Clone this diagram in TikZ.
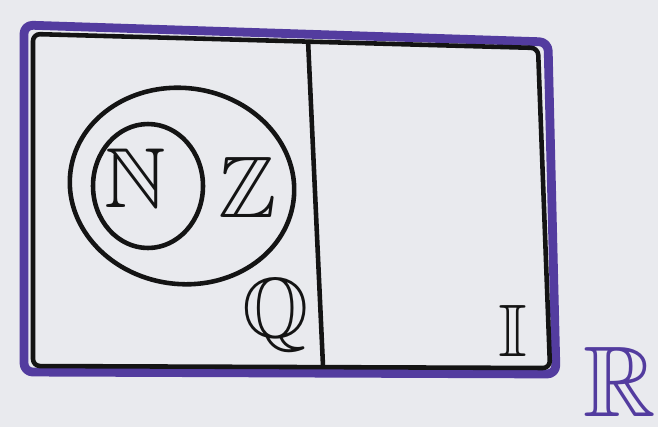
\documentclass[tikz,border=0pt]{standalone}
\usepackage{amssymb}
\usetikzlibrary{positioning, shapes.geometric}
\definecolor{paper}{HTML}{E9EAEE}
\definecolor{marker}{HTML}{533C9F}
\definecolor{ink}{HTML}{141414}
\begin{document}
\begin{tikzpicture}[
    x=0.02cm, y=-0.02cm,
    edge/.style={draw=ink, line width=2.6pt, line join=round},
    ring/.style={ellipse, draw=ink, line width=2.6pt, inner sep=0pt},
    setname/.style={inner sep=0pt, text=ink, font=\Huge, scale=#1},
    setname/.default=2]
  \fill[paper] (0,0) rectangle (658,427);
  % real numbers: the purple frame
  \draw[marker, line width=5pt, rounded corners=5pt, line join=round]
    (24,25) -- (548,42) -- (556,374) -- (24,372) -- cycle;
  \draw[edge, rounded corners=4pt] (33,34) -- (538,48) -- (550,368) -- (33,366) -- cycle;
  \draw[edge] (308,40) -- (323,366);
  % integers and naturals
  \node[ring, rotate=-8, minimum width=4.5cm, minimum height=3.92cm] (zring) at (182,186) {};
  \node[ring, minimum width=2.2cm, minimum height=2.48cm] (nring) at (148,186) {};
  \node[setname=1.95] (nat) at (135,178) {$\mathbb{N}$};
  \node[setname] (int) at (248,187) {$\mathbb{Z}$};
  \node[setname=1.95] (rat) at (276,315) {$\mathbb{Q}$};
  \node[setname=1.7] (irr) at (513,331) {$\mathbb{I}$};
  \node[setname=2.3, text=marker] (real) at (620,382) {$\mathbb{R}$};
\end{tikzpicture}
\end{document}
